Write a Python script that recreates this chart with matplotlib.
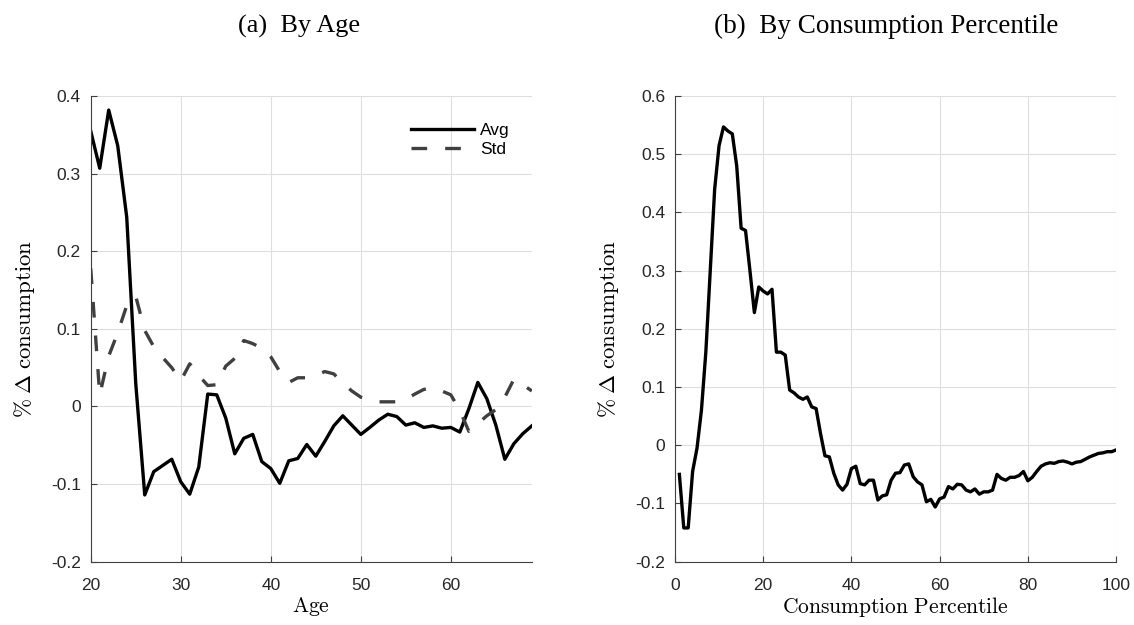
import numpy as np
import matplotlib
matplotlib.use("Agg")
import matplotlib.pyplot as plt
from matplotlib.ticker import FuncFormatter

plt.rcParams['font.family'] = ['Liberation Sans', 'DejaVu Sans']
plt.rcParams['mathtext.fontset'] = 'cm'
plt.rcParams['axes.unicode_minus'] = False

# --- panel (a): by age ---
ages = list(range(20, 70))
avg_age = [0.355, 0.307, 0.382, 0.336, 0.244, 0.030, -0.114, -0.084, -0.076, -0.068,
           -0.097, -0.113, -0.078, 0.016, 0.015, -0.015, -0.061, -0.041, -0.036, -0.071,
           -0.080, -0.099, -0.070, -0.067, -0.049, -0.064, -0.045, -0.025, -0.012, -0.024,
           -0.036, -0.027, -0.0175, -0.010, -0.013, -0.024, -0.021, -0.027, -0.025, -0.028,
           -0.027, -0.033, -0.003, 0.031, 0.010, -0.024, -0.068, -0.048, -0.035, -0.025]
std_age = [0.178, 0.015, 0.065, 0.095, 0.130, 0.142, 0.098, 0.077, 0.063, 0.050,
           0.033, 0.055, 0.040, 0.027, 0.028, 0.052, 0.062, 0.085, 0.081, 0.075,
           0.064, 0.045, 0.031, 0.037, 0.037, 0.040, 0.045, 0.042, 0.030, 0.020,
           0.012, 0.008, 0.006, 0.006, 0.006, 0.009, 0.016, 0.022, 0.024, 0.020,
           0.015, -0.005, -0.032, -0.022, -0.012, -0.004, 0.012, 0.035, 0.028, 0.020]

# --- panel (b): by consumption percentile ---
pct = list(range(1, 101))
avg_pct = [-0.050, -0.142, -0.142, -0.045, -0.005, 0.060, 0.160, 0.300, 0.440, 0.515,
           0.547, 0.540, 0.535, 0.480, 0.373, 0.369, 0.300, 0.228, 0.272, 0.265,
           0.260, 0.268, 0.160, 0.160, 0.155, 0.095, 0.090, 0.083, 0.079, 0.083,
           0.066, 0.063, 0.020, -0.018, -0.020, -0.048, -0.068, -0.077, -0.067, -0.040,
           -0.036, -0.066, -0.068, -0.060, -0.060, -0.094, -0.087, -0.085, -0.060, -0.048,
           -0.047, -0.034, -0.032, -0.054, -0.063, -0.068, -0.097, -0.093, -0.106, -0.092,
           -0.089, -0.071, -0.075, -0.067, -0.068, -0.077, -0.080, -0.075, -0.084, -0.080,
           -0.080, -0.077, -0.050, -0.057, -0.060, -0.055, -0.055, -0.052, -0.045, -0.061,
           -0.055, -0.045, -0.036, -0.032, -0.030, -0.031, -0.028, -0.027, -0.029, -0.032,
           -0.029, -0.028, -0.024, -0.020, -0.017, -0.014, -0.013, -0.011, -0.011, -0.008]

ylabel = r'$\%\;\Delta\;\mathrm{consumption}$'
fmt = FuncFormatter(lambda v, p: '%g' % round(v, 3))


def style_axes(ax):
    # matlab-ish look: box off, light grid, inward ticks
    for s in ['top', 'right']:
        ax.spines[s].set_visible(False)
    for s in ['left', 'bottom']:
        ax.spines[s].set_color('#404040')
        ax.spines[s].set_linewidth(0.8)
    ax.grid(True, color='#dedede', linewidth=0.8)
    ax.set_axisbelow(True)
    ax.tick_params(direction='in', length=4, width=0.8, color='#404040',
                   labelsize=12.5, labelcolor='#262626')
    ax.tick_params(axis='y', pad=7)
    ax.tick_params(axis='x', pad=12)
    ax.yaxis.set_major_formatter(fmt)


fig = plt.figure(figsize=(11.34, 6.25), dpi=100)

ax1 = fig.add_axes([0.080, 0.1013, 0.389, 0.745])
ax1.plot(ages, avg_age, color='black', linewidth=2.4, label='Avg')
ax1.plot(ages, std_age, color='#404040', linewidth=2.4, dashes=(4.7, 5.4), label='Std')
ax1.set_xlim(20, 69)
ax1.set_ylim(-0.2, 0.4)
ax1.set_xticks([20, 30, 40, 50, 60])
ax1.set_yticks(np.arange(-0.2, 0.41, 0.1))
style_axes(ax1)
ax1.set_xlabel(r'$\mathrm{Age}$', fontsize=15.5, labelpad=1)
ax1.set_ylabel(ylabel, fontsize=16.5, labelpad=10)
ax1.legend(loc='upper right', bbox_to_anchor=(0.985, 0.975), frameon=False, fontsize=12.5,
           handlelength=3.6, handletextpad=0.35, labelspacing=0.2)

ax2 = fig.add_axes([0.5952, 0.1013, 0.389, 0.745])
ax2.plot(pct, avg_pct, color='black', linewidth=2.4)
ax2.set_xlim(0, 100)
ax2.set_ylim(-0.2, 0.6)
ax2.set_xticks([0, 20, 40, 60, 80, 100])
ax2.set_yticks(np.arange(-0.2, 0.61, 0.1))
style_axes(ax2)
ax2.set_xlabel(r'$\mathrm{Consumption\ Percentile}$', fontsize=15.5, labelpad=1)
ax2.set_ylabel(ylabel, fontsize=16.5, labelpad=10)

fig.text(299 / 1134, 0.958, '(a)  By Age', ha='center', va='center',
         fontsize=19, family=['Liberation Serif', 'DejaVu Serif'])
fig.text(886 / 1134, 0.958, '(b)  By Consumption Percentile', ha='center', va='center',
         fontsize=19.5, family=['Liberation Serif', 'DejaVu Serif'])

fig.savefig('out.png', dpi=100)
